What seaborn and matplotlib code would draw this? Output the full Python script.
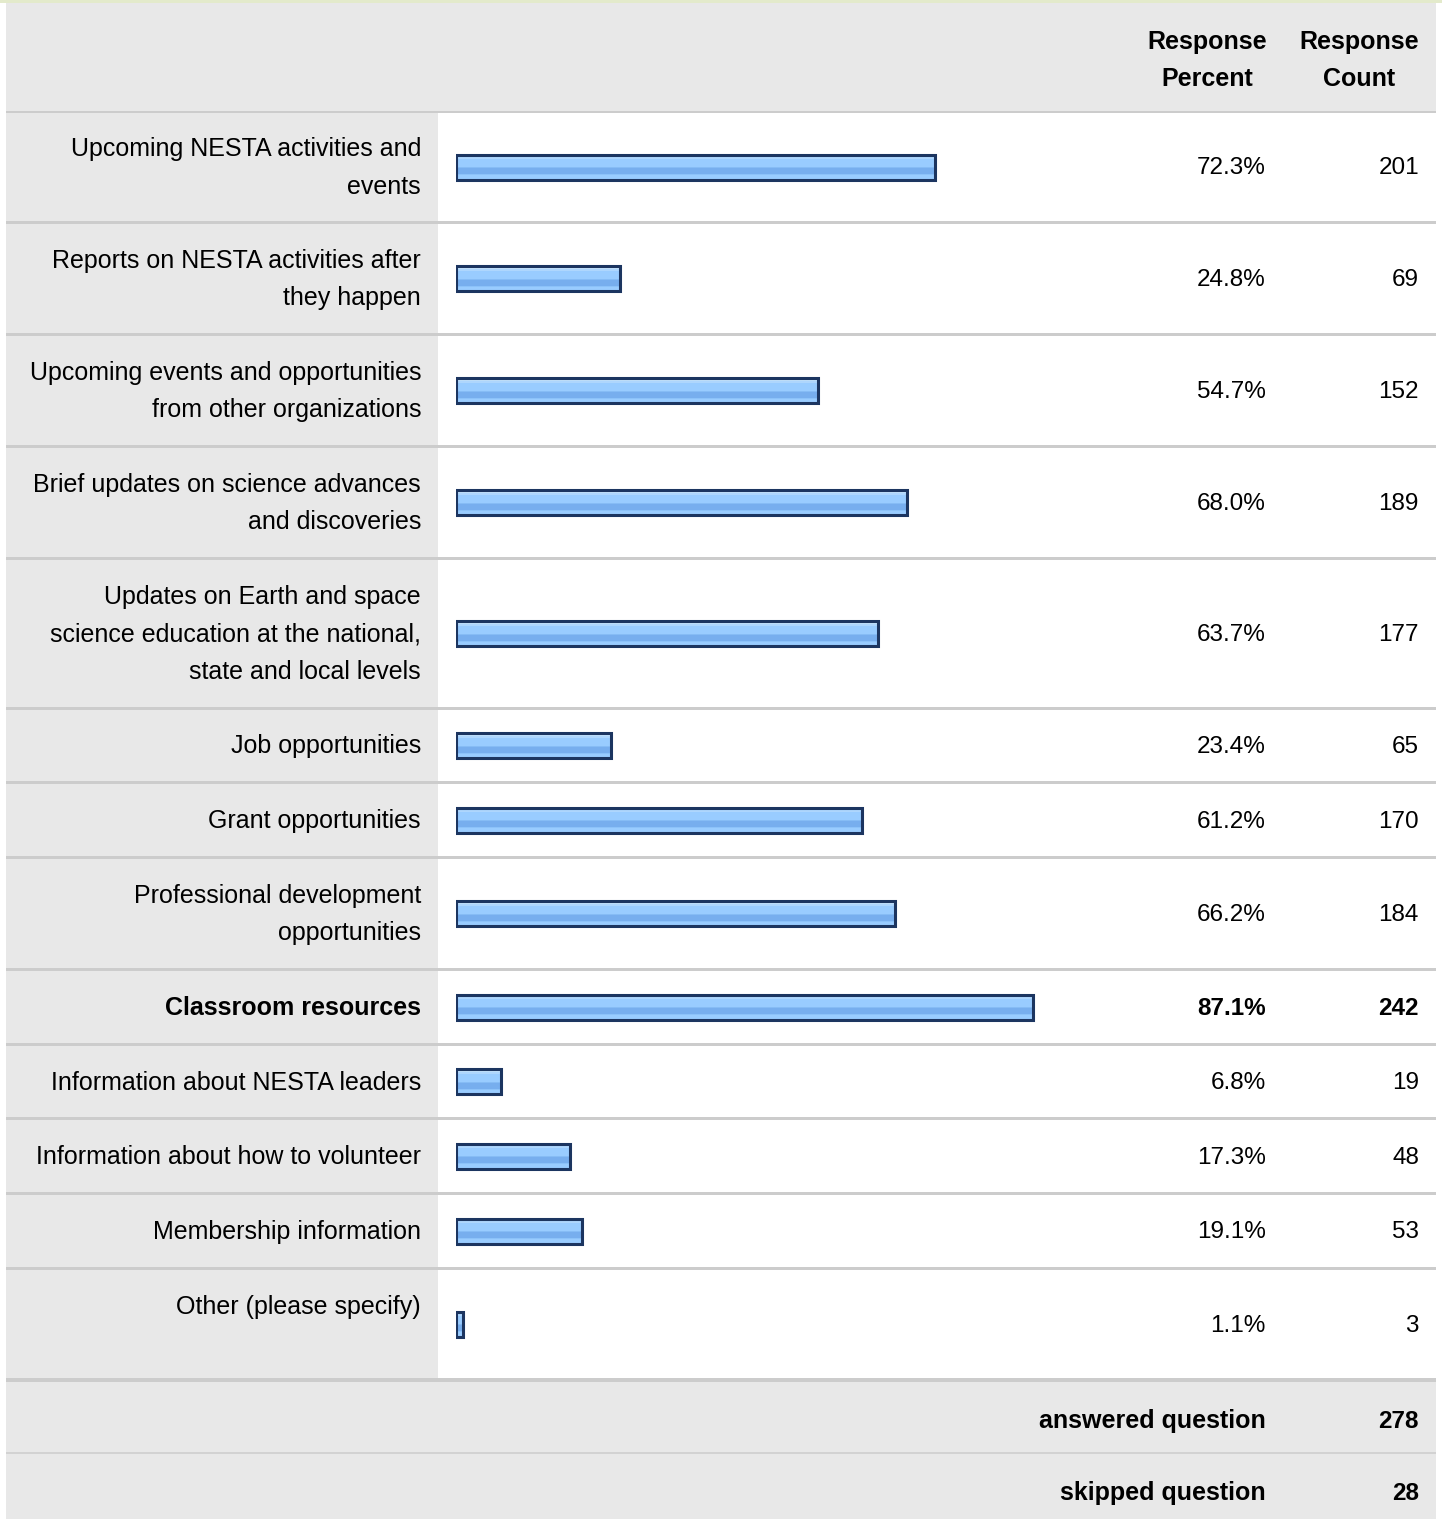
import numpy as np
import pandas as pd
import seaborn as sns
import matplotlib.pyplot as plt
from matplotlib.patches import Rectangle
from matplotlib.colors import to_rgb

# ---- data ----
labels = [
    'Upcoming NESTA activities and\nevents',
    'Reports on NESTA activities after\nthey happen',
    'Upcoming events and opportunities\nfrom other organizations',
    'Brief updates on science advances\nand discoveries',
    'Updates on Earth and space\nscience education at the national,\nstate and local levels',
    'Job opportunities',
    'Grant opportunities',
    'Professional development\nopportunities',
    'Classroom resources',
    'Information about NESTA leaders',
    'Information about how to volunteer',
    'Membership information',
    'Other (please specify)',
]
percents = [72.3, 24.8, 54.7, 68.0, 63.7, 23.4, 61.2, 66.2, 87.1, 6.8, 17.3, 19.1, 1.1]
counts = [201, 69, 152, 189, 177, 65, 170, 184, 242, 19, 48, 53, 3]
header_pct = 'Response\nPercent'
header_cnt = 'Response\nCount'
footer_labels = ['answered question', 'skipped question']
footer_values = [278, 28]

# ---- layout (pixels) ----
W, H = 1442, 1519
row_heights = [108, 109, 109, 109, 147, 71, 72, 109, 72, 71, 72, 72, 108]
bold_row = 8
top_aligned_row = 12
GRAY = '#e8e8e8'
LINE = '#cccccc'
FONT = 18
NUMFONT = 17.5
LS = 1.7

tops = []
y = 113
for h in row_heights:
    tops.append(y)
    y += h + 3
centers = [t + h / 2 for t, h in zip(tops, row_heights)]

sns.set_theme(style='white')
plt.rcParams['font.family'] = ['Liberation Sans', 'DejaVu Sans']
plt.rcParams['text.color'] = 'black'

fig = plt.figure(figsize=(W / 100, H / 100), dpi=100)
fig.patch.set_facecolor('white')
ax_bg = fig.add_axes([0, 0, 1, 1], zorder=0)
ax_bg.set_xlim(0, W)
ax_bg.set_ylim(H, 0)
ax_bg.axis('off')

def rect(x0, y0, x1, y1, c):
    ax_bg.add_patch(Rectangle((x0, y0), x1 - x0, y1 - y0, facecolor=c, edgecolor='none', lw=0))

# top border + header
rect(0, 0, W, 3, '#e3eacb')
rect(6, 3, 1436, 110.5, GRAY)
rect(6, 110.5, 1436, 112.8, LINE)
ax_bg.text(1207, 60.5, header_pct, ha='center', va='center', fontsize=FONT, fontweight='bold',
           linespacing=LS, color='black')
ax_bg.text(1359, 60.5, header_cnt, ha='center', va='center', fontsize=FONT, fontweight='bold',
           linespacing=LS, color='black')

for i, (t, h) in enumerate(zip(tops, row_heights)):
    rect(6, t, 438, t + h, GRAY)
    sep = 4 if i == len(row_heights) - 1 else 3
    rect(6, t + h, 1436, t + h + sep, LINE)
    wt = 'bold' if i == bold_row else 'normal'
    ly = t + 37 if i == top_aligned_row else centers[i] + 1
    ax_bg.text(421, ly, labels[i], ha='right', va='center', fontsize=FONT,
               fontweight=wt, linespacing=LS, color='black')
    ax_bg.text(1266, centers[i] + 1.5, f'{percents[i]:.1f}%', ha='right', va='center',
               fontsize=NUMFONT, fontweight=wt, color='black')
    ax_bg.text(1419, centers[i] + 1.5, f'{counts[i]}', ha='right', va='center',
               fontsize=NUMFONT, fontweight=wt, color='black')

# footer
rect(6, 1382, 1436, 1452, GRAY)
rect(6, 1452, 1436, 1454, '#d2d2d2')
rect(6, 1454, 1436, H, GRAY)
for yc, lab, val in zip([1421, 1493], footer_labels, footer_values):
    ax_bg.text(1266, yc, lab, ha='right', va='center', fontsize=FONT, fontweight='bold', color='black')
    ax_bg.text(1419, yc, f'{val}', ha='right', va='center', fontsize=NUMFONT, fontweight='bold', color='black')

# ---- bars ----
ax_bar = fig.add_axes([455.5 / W, 0, 663.6 / W, 1], zorder=1)
ax_bar.patch.set_alpha(0)
df = pd.DataFrame({'percent': percents, 'center': centers})
bar_h = 25
min_gap = np.diff(sorted(centers)).min()
sns.barplot(data=df, x='percent', y='center', orient='h', native_scale=True,
            width=bar_h / min_gap, color='#99ccff', edgecolor='#1c3560',
            linewidth=2.2, errorbar=None, ax=ax_bar)

# striped fill like the original gif bars
stops = (['#c2e1fc'] * 3 + ['#aed6fd'] * 2 + ['#99ccff'] * 8 + ['#86bcf5']
         + ['#77aeee'] * 6 + ['#8cc2f9'] + ['#99ccff'] * 4)
grad = np.array([to_rgb(c) for c in stops])[:, None, :]
for p in list(ax_bar.patches):
    x0, y0, w, h = p.get_x(), p.get_y(), p.get_width(), p.get_height()
    im = ax_bar.imshow(grad, extent=[x0, x0 + w, y0 + h, y0], aspect='auto',
                       interpolation='nearest', zorder=1)
    im.set_clip_path(p)
    p.set_facecolor('none')
    p.set_zorder(2)

ax_bar.set_xlim(0, 100)
ax_bar.set_ylim(H, 0)
ax_bar.axis('off')

fig.savefig('out.png', dpi=100)
